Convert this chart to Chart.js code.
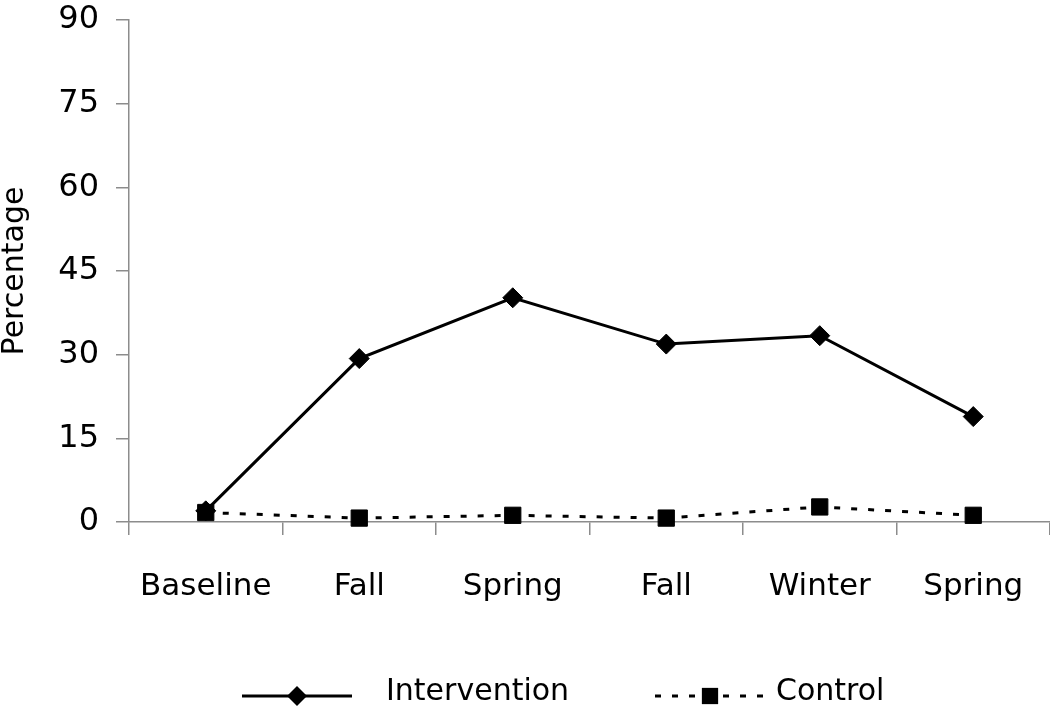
<!DOCTYPE html>
<html>
<head>
<meta charset="utf-8">
<script src="https://cdn.jsdelivr.net/npm/chart.js@4.4.1/dist/chart.umd.min.js"></script>
<style>
  html, body { margin: 0; padding: 0; background: #fff; }
  #chart { display: block; }
</style>
</head>
<body>
<canvas id="chart" width="1050" height="708"></canvas>
<script>
// data
const categories = ["Baseline", "Fall", "Spring", "Fall", "Winter", "Spring"];
const interventionValues = [2.0, 29.3, 40.2, 31.9, 33.4, 18.9];
const controlValues = [1.7, 0.7, 1.2, 0.7, 2.7, 1.2];
const yTicks = [0, 15, 30, 45, 60, 75, 90];

const FONT = "'DejaVu Sans', sans-serif";
const AXIS_GREY = "#8c8c8c";

// legend: line sample + marker + label, drawn under the plot
const bottomLegend = {
  id: "bottomLegend",
  afterDraw(chart) {
    const ctx = chart.ctx;
    const y = 696;
    const items = [
      { start: 242, textX: 386, ds: chart.data.datasets[0] },
      { start: 655, textX: 776, ds: chart.data.datasets[1] },
    ];
    items.forEach(({ start, textX, ds }) => {
      const end = start + 110;
      const mid = (start + end) / 2;
      ctx.save();
      ctx.strokeStyle = ds.borderColor;
      ctx.lineWidth = ds.borderWidth;
      ctx.setLineDash(ds.borderDash || []);
      ctx.beginPath();
      ctx.moveTo(start, y);
      ctx.lineTo(end, y);
      ctx.stroke();
      ctx.setLineDash([]);
      ctx.fillStyle = ds.pointBackgroundColor;
      const r = ds.pointRadius;
      ctx.beginPath();
      if (ds.pointStyle === "rectRot") {
        ctx.moveTo(mid - r, y);
        ctx.lineTo(mid, y - r);
        ctx.lineTo(mid + r, y);
        ctx.lineTo(mid, y + r);
        ctx.closePath();
      } else {
        const s = Math.SQRT1_2 * r;
        ctx.rect(mid - s, y - s, 2 * s, 2 * s);
      }
      ctx.fill();
      ctx.fillStyle = "#000";
      ctx.font = `30px ${FONT}`;
      ctx.textBaseline = "middle";
      ctx.textAlign = "left";
      ctx.fillText(ds.label, textX, y - 4);
      ctx.restore();
    });
  },
};

new Chart(document.getElementById("chart"), {
  type: "line",
  data: {
    labels: categories,
    datasets: [
      {
        label: "Intervention",
        data: interventionValues,
        borderColor: "#000",
        borderWidth: 3,
        pointStyle: "rectRot",
        pointRadius: 10,
        pointBackgroundColor: "#000",
        pointBorderColor: "#000",
        pointBorderWidth: 1,
        tension: 0,
        clip: false,
      },
      {
        label: "Control",
        data: controlValues,
        borderColor: "#000",
        borderWidth: 3,
        borderDash: [6, 11],
        pointStyle: "rect",
        pointRadius: 11.5,
        pointBackgroundColor: "#000",
        pointBorderColor: "#000",
        pointBorderWidth: 1,
        tension: 0,
        clip: false,
      },
    ],
  },
  options: {
    responsive: false,
    animation: false,
    devicePixelRatio: 1,
    layout: {
      autoPadding: false,
      padding: { top: 20, right: 0, bottom: 0, left: 0 },
    },
    plugins: {
      legend: { display: false },
      tooltip: { enabled: false },
    },
    scales: {
      x: {
        offset: true,
        grid: {
          offset: true,
          drawOnChartArea: false,
          drawTicks: true,
          tickLength: 13,
          color: AXIS_GREY,
          lineWidth: 1.5,
        },
        border: { color: AXIS_GREY, width: 1.5 },
        ticks: {
          color: "#000",
          font: { family: FONT, size: 31 },
          padding: 33,
          maxRotation: 0,
          autoSkip: false,
        },
        afterFit: (scale) => {
          scale.height = 186;
          scale.paddingLeft = 0;
          scale.paddingRight = 0;
        },
      },
      y: {
        min: 0,
        max: 90,
        afterBuildTicks: (scale) => {
          scale.ticks = yTicks.map((v) => ({ value: v }));
        },
        grid: {
          drawOnChartArea: false,
          drawTicks: true,
          tickLength: 13,
          color: AXIS_GREY,
          lineWidth: 1.5,
        },
        border: { color: AXIS_GREY, width: 1.5 },
        ticks: {
          color: "#000",
          font: { family: FONT, size: 32 },
          padding: 17,
        },
        title: {
          display: true,
          text: "Percentage",
          color: "#000",
          font: { family: FONT, size: 30, lineHeight: 1 },
          padding: 0,
        },
        afterFit: (scale) => {
          scale.width = 129;
          scale.paddingTop = 0;
          scale.paddingBottom = 0;
        },
      },
    },
  },
  plugins: [bottomLegend],
});
</script>
</body>
</html>
